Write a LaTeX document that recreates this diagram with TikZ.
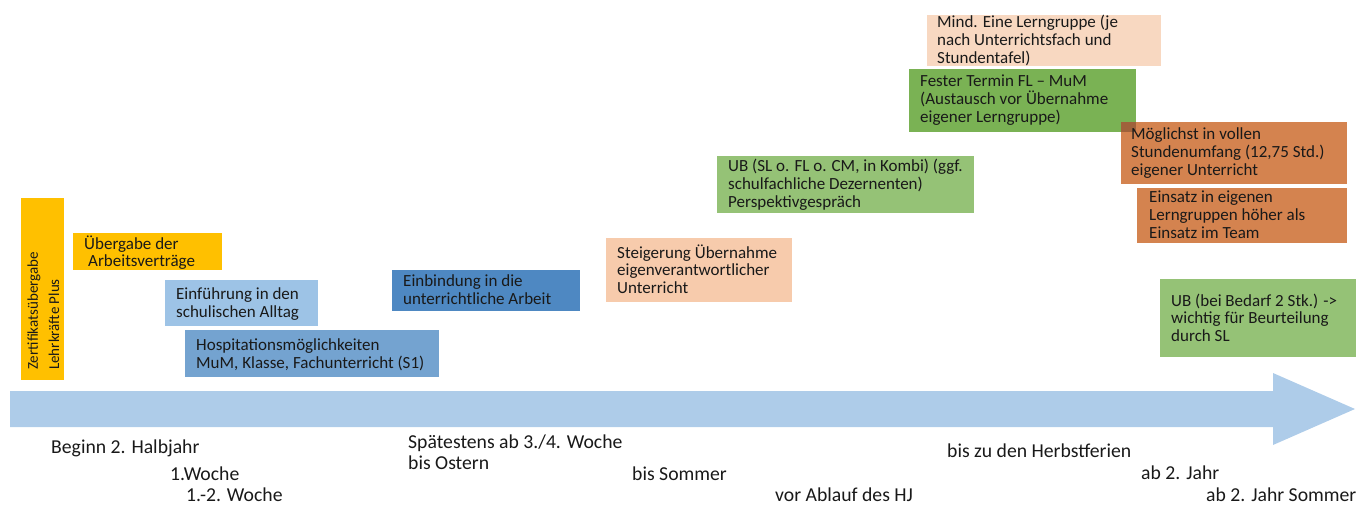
\documentclass[tikz,border=0pt]{standalone}
\usepackage{fontspec}
\setmainfont{Carlito}
\usepackage{tikz}

\definecolor{gold}{RGB}{255,192,0}
\definecolor{paleblue}{RGB}{157,195,230}
\definecolor{midblue}{RGB}{116,163,208}
\definecolor{deepblue}{RGB}{78,136,194}
\definecolor{peach}{RGB}{247,203,172}
\definecolor{palepeach}{RGB}{248,216,193}
\definecolor{leaf}{RGB}{149,194,118}
\definecolor{darkleaf}{RGB}{122,178,84}
\definecolor{rust}{RGB}{212,131,79}
\definecolor{shaft}{RGB}{174,204,233}
\definecolor{ink}{RGB}{25,25,25}

\newcommand{\boxfont}{\fontsize{17}{17.7}\selectfont}
\newcommand{\whenfont}{\fontsize{19.7}{21}\selectfont}

\begin{document}
\begin{tikzpicture}[x=1pt,y=-1pt,
	box/.style={anchor=base west, inner sep=0pt, align=left, text=ink, font=\boxfont},
	when/.style={anchor=base west, inner sep=0pt, align=left, text=ink, font=\whenfont}]

	\useasboundingbox (0,0) rectangle (1357,505);

	% time line
	\fill[shaft] (10,391) -- (1273,391) -- (1273,373) -- (1355,409)
		-- (1273,445) -- (1273,427) -- (10,427) -- cycle;

	% boxes
	\fill[gold] (21,198) rectangle (64,380);
	\fill[gold] (73,233) rectangle (222,270);
	\fill[paleblue] (165,280) rectangle (318,326);
	\fill[midblue] (185,330) rectangle (439,377);
	\fill[deepblue] (392,270) rectangle (580,311);
	\fill[peach] (606,238) rectangle (792,302);
	\fill[leaf] (717,156) rectangle (974,213);
	\fill[palepeach] (927,15) rectangle (1161,66);
	\fill[darkleaf] (909,69) rectangle (1136,132);
	\fill[rust] (1121,122) rectangle (1347,184);
	\fill[rust!75!black] (1121,122) rectangle (1136,132);
	\fill[rust] (1137,188) rectangle (1347,243);
	\fill[leaf] (1160,279) rectangle (1356,357);

	% texts (anchored at the baseline of the last line)
	\node[box, rotate=90, font=\fontsize{15}{21}\selectfont] (zert) at (59,370) {Zertifikatsübergabe\\Lehrkräfte Plus};
	\node[box] (vertrag) at (84,266.7) {Übergabe der\\\hspace{4pt}Arbeitsverträge};
	\node[box] (alltag) at (176,317) {Einführung in den\\schulischen Alltag};
	\node[box] (hospi) at (196,368) {Hospitationsmöglichkeiten\\MuM, Klasse, Fachunterricht (S1)};
	\node[box] (arbeit) at (403,304) {Einbindung in die\\unterrichtliche Arbeit};
	\node[box] (steig) at (617,293.4) {Steigerung Übernahme\\eigenverantwortlicher\\Unterricht};
	\node[box] (ub) at (728,207.4) {UB (SL o. FL o. CM, in Kombi) (ggf.\\schulfachliche Dezernenten)\\Perspektivgespräch};
	\node[box] (lerngr) at (937,63.4) {Mind. Eine Lerngruppe (je\\nach Unterrichtsfach und\\Stundentafel)};
	\node[box] (termin) at (920,122.4) {Fester Termin FL – MuM\\(Austausch vor Übernahme\\eigener Lerngruppe)};
	\node[box] (umfang) at (1131,175.4) {Möglichst in vollen\\Stundenumfang (12,75 Std.)\\eigener Unterricht};
	\node[box] (einsatz) at (1149,238.4) {Einsatz in eigenen\\Lerngruppen höher als\\Einsatz im Team};
	\node[box] (ubsl) at (1171,341.4) {UB (bei Bedarf 2 Stk.) ->\\wichtig für Beurteilung\\durch SL};

	% dates below the arrow
	\node[when] (beginn) at (51,453) {Beginn 2. Halbjahr};
	\node[when] (woche) at (170,480) {1.Woche};
	\node[when] (wochen) at (186,501) {1.-2. Woche};
	\node[when] (ostern) at (408,469) {Spätestens ab 3./4. Woche\\bis Ostern};
	\node[when] (sommer) at (632,480) {bis Sommer};
	\node[when] (hj) at (775,501) {vor Ablauf des HJ};
	\node[when] (herbst) at (947,457) {bis zu den Herbstferien};
	\node[when] (jahr) at (1141,479) {ab 2. Jahr};
	\node[when] (jahrsommer) at (1206,501) {ab 2. Jahr Sommer};
\end{tikzpicture}
\end{document}
